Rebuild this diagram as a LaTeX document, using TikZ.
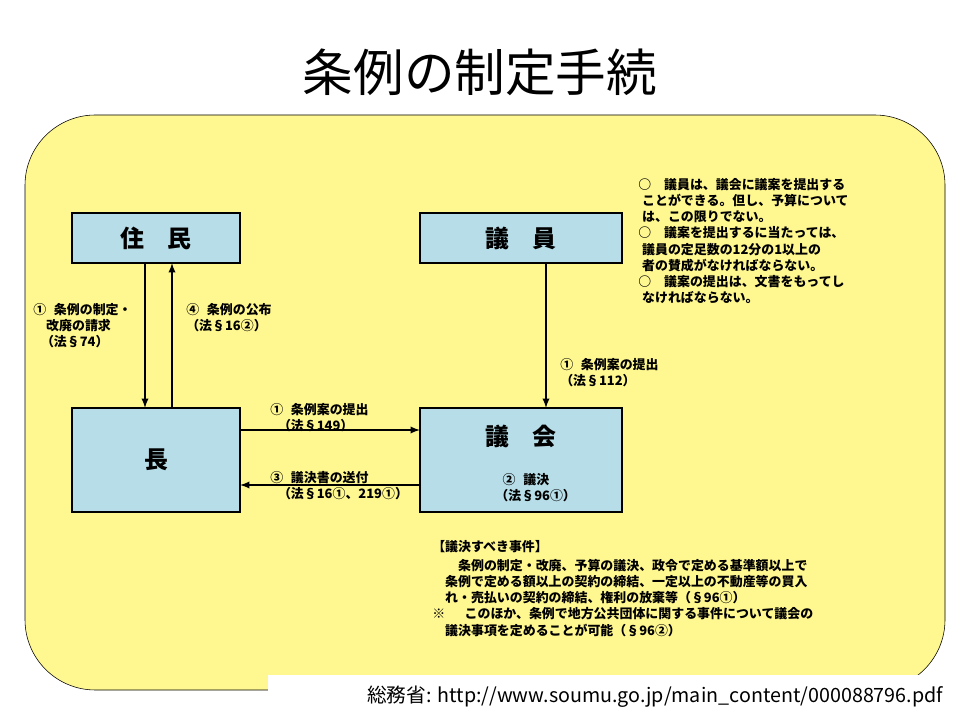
\documentclass[tikz,border=0pt]{standalone}
\usepackage{fontspec}
\setmainfont{Noto Sans CJK JP}
\usetikzlibrary{positioning}
\definecolor{bgyellow}{RGB}{255,248,145}
\definecolor{boxblue}{RGB}{183,222,232}
\tikzset{
  organ/.style={draw=black, line width=1.6pt, fill=boxblue, font=\fontsize{17}{20}\selectfont\bfseries},
  flow/.style={-latex, line width=1.3pt},
  note/.style={font=\fontsize{9.2}{11.5}\selectfont\bfseries, align=left, inner sep=0pt}
}
\begin{document}
\begin{tikzpicture}[x=0.025cm, y=-0.025cm]
  \useasboundingbox (0,0) rectangle (960,720);
  \fill[white] (0,0) rectangle (960,720);
  % title and frame
  \node (title) at (480,72) {\fontsize{36}{40}\selectfont 条例の制定手続};
  \draw[fill=bgyellow, rounded corners=50pt] (25,115) rectangle (945,690);
  % boxes
  \draw[organ] (72,213) rectangle (240,263) node[pos=.5] (jumin) {住\hspace{1em}民};
  \draw[organ] (420,213) rectangle (622,263) node[pos=.5] (giin) {議\hspace{1em}員};
  \draw[organ] (72,408) rectangle (240,512) node[pos=.5] (cho) {長};
  \draw[organ] (420,408) rectangle (622,512);
  \node[font=\fontsize{17}{20}\selectfont\bfseries] (gikai) at (521,436) {議\hspace{1em}会};
  \node[note, align=center] (giketsu) at (526,488) {②\hspace{0.6em}議決\\\hspace{1.5em}（法§96①）};
  % connectors
  \coordinate (a1) at (145,263); \coordinate (a2) at (145,408);
  \coordinate (b1) at (172,408); \coordinate (b2) at (172,263);
  \coordinate (c1) at (546,263); \coordinate (c2) at (546,408);
  \coordinate (d1) at (240,430); \coordinate (d2) at (420,430);
  \coordinate (e1) at (420,485); \coordinate (e2) at (240,485);
  \draw[flow] (a1) -- (a2);
  \draw[flow] (b1) -- (b2);
  \draw[flow] (c1) -- (c2);
  \draw[flow] (d1) -- (d2);
  \draw[flow] (e1) -- (e2);
  % labels
  \node[note, anchor=north west] (l1) at (33,303) {①\hspace{0.6em}条例の制定・\\\hspace{1em}改廃の請求\\\hspace{0.6em}（法§74）};
  \node[note, anchor=north west] (l2) at (186,303) {④\hspace{0.6em}条例の公布\\（法§16②）};
  \node[note, anchor=north west] (l3) at (560,358) {①\hspace{0.6em}条例案の提出\\（法§112）};
  \node[note, anchor=south west] (l4) at (270,432) {①\hspace{0.6em}条例案の提出\\\hspace{0.6em}（法§149）};
  \node[note, anchor=north west] (l5) at (270,471) {③\hspace{0.6em}議決書の送付\\\hspace{0.6em}（法§16①、219①）};
  \node[note, anchor=north west] (rule) at (638,178) {○\hspace{1em}議員は、議会に議案を提出する\\\hspace{0.3em}ことができる。但し、予算について\\\hspace{0.3em}は、この限りでない。\\○\hspace{1em}議案を提出するに当たっては、\\\hspace{0.3em}議員の定足数の12分の1以上の\\\hspace{0.3em}者の賛成がなければならない。\\○\hspace{1em}議案の提出は、文書をもってし\\\hspace{0.3em}なければならない。};
  \node[note, anchor=north west] (jiken) at (432,540) {【議決すべき事件】\\[2pt]\hspace{2em}条例の制定・改廃、予算の議決、政令で定める基準額以上で\\\hspace{1em}条例で定める額以上の契約の締結、一定以上の不動産等の買入\\\hspace{1em}れ・売払いの契約の締結、権利の放棄等（§96①）\\※\hspace{1.5em}このほか、条例で地方公共団体に関する事件について議会の\\\hspace{1em}議決事項を定めることが可能（§96②）};
  % source
  \fill[white] (268,675) rectangle (960,720);
  \node[anchor=east] (src) at (948,697) {\fontsize{14}{17}\selectfont 総務省: http://www.soumu.go.jp/main\_content/000088796.pdf};
\end{tikzpicture}
\end{document}
